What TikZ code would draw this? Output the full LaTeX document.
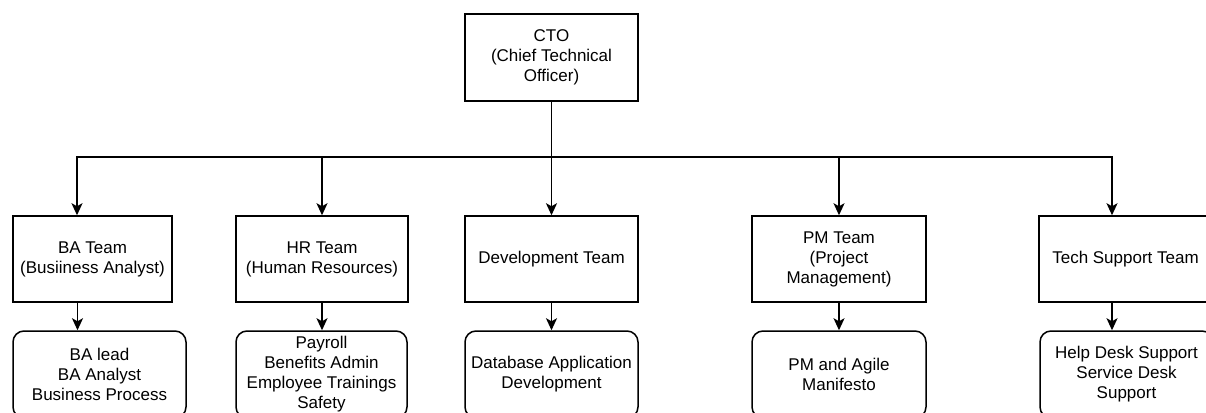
\documentclass[tikz,border=0pt]{standalone}
\usepackage{fontspec}
\setmainfont{Liberation Sans}
\usetikzlibrary{arrows.meta}
\tikzset{
  box/.style={draw, line width=1.5pt, minimum height=87pt, inner sep=0pt, align=center,
    font=\fontsize{17pt}{20pt}\selectfont},
  rbox/.style={box, rounded corners=11pt},
  arr/.style={line width=1.5pt, -{Stealth[length=12pt,width=11pt,inset=3pt]}},
  ln/.style={line width=1.5pt}
}
\begin{document}
\begin{tikzpicture}[x=1pt,y=-1pt]
\useasboundingbox[fill=white] (0,0) rectangle (1206,412);
\node[box, minimum width=173pt] (cto) at (551.5,57.5) {CTO\\(Chief Technical\\Officer)};
\node[box, minimum width=159pt, minimum height=86pt] (ba) at (92.5,259) {BA Team\\(Busiiness Analyst)};
\node[box, minimum width=172pt, minimum height=86pt] (hr) at (322,259) {HR Team\\(Human Resources)};
\node[box, minimum width=173pt, minimum height=86pt] (dev) at (551.5,259) {Development Team};
\node[box, minimum width=174pt, minimum height=86pt] (pm) at (839,259) {PM Team\\(Project\\Management)};
\node[box, minimum width=173pt, minimum height=86pt] (ts) at (1125.5,259) {Tech Support Team};
\node[rbox, minimum width=173pt] (bal) at (99.5,374.5) {BA lead\\BA Analyst\\Business Process};
\node[rbox, minimum width=171pt] (hrl) at (321.5,374.5) {Payroll\\Benefits Admin\\Employee Trainings\\Safety};
\node[rbox, minimum width=173pt] (devl) at (551.5,374.5) {Database Application\\Development};
\node[rbox, minimum width=174pt] (pml) at (839,374.5) {PM and Agile\\Manifesto};
\node[rbox, minimum width=173pt] (tsl) at (1126.5,374.5) {Help Desk Support\\Service Desk\\Support};
\coordinate (bus) at (551.5,157);
\draw[arr] (cto.south) -- (bus) -| ([xshift=-15.5pt]ba.north);
\draw[arr] (cto.south) -- (bus) -| (hr.north);
\draw[arr] (cto.south) -- (dev.north);
\draw[arr] (cto.south) -- (bus) -| (pm.north);
\draw[arr] (cto.south) -- (bus) -| ([xshift=-13.5pt]ts.north);
\draw[arr] ([xshift=-15pt]ba.south) -- ([xshift=-15pt]ba.south |- bal.north);
\draw[arr] (hr.south) -- (hr.south |- hrl.north);
\draw[arr] (dev.south) -- (devl.north);
\draw[arr] (pm.south) -- (pml.north);
\draw[arr] ([xshift=-13.5pt]ts.south) -- ([xshift=-13.5pt]ts.south |- tsl.north);
\end{tikzpicture}
\end{document}
